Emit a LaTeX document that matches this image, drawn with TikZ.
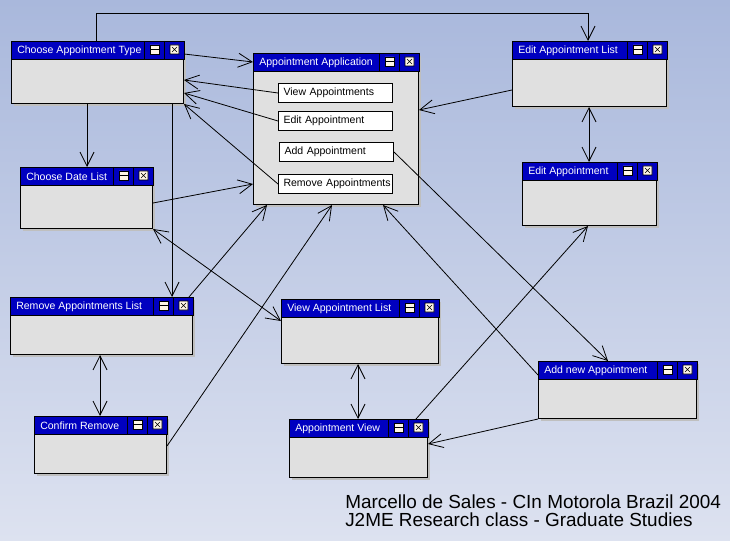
\documentclass[tikz,border=0pt]{standalone}
\usepackage{fontspec}
\setmainfont{Liberation Sans}
\usepackage{tikz}
\usetikzlibrary{arrows.meta,calc}

\definecolor{bgtop}{RGB}{169,184,220}
\definecolor{bgbot}{RGB}{221,226,240}
\definecolor{barblue}{RGB}{0,0,192}
\definecolor{winbg}{RGB}{224,224,224}
\definecolor{iconbg}{RGB}{255,246,230}

% window: name, left, top, width, height, title (all in px)
\newcommand\win[6]{%
  \fill[black!25] (#2+3,#3+3) rectangle ++(#4,#5);
  \node[winbox, minimum width=#4*0.75pt, minimum height=#5*0.75pt] (#1) at (#2,#3) {};
  \draw[fill=barblue] (#1.north west) rectangle ($(#1.north east)+(0,18)$);
  \node[wintitle] (#1-t) at ($(#1.north west)+(6,9.5)$) {#6};
  \draw ($(#1.north east)+(-40,0)$) -- ++(0,18) ($(#1.north east)+(-20,0)$) -- ++(0,18);
  \draw[fill=iconbg] ($(#1.north east)+(-34,4)$) rectangle ++(9,9) ++(-9,-4.5) -- ++(9,0);
  \draw[fill=iconbg] ($(#1.north east)+(-14,4)$) rectangle ++(9,9) ++(-7,-7) -- ++(5,5) ++(0,-5) -- ++(-5,5);
}

\begin{document}
\begin{tikzpicture}[x=0.75pt, y=-0.75pt, >={Straight Barb[length=10.5pt,width=10.5pt]},
  winbox/.style={draw, fill=winbg, line width=0.75pt, anchor=north west, inner sep=0pt},
  wintitle/.style={anchor=west, text=white, inner sep=0pt, font=\fontsize{7.9}{9}\selectfont},
  btn/.style={draw, fill=white, line width=0.75pt, anchor=north west, inner sep=0pt,
    minimum width=85.5pt, minimum height=14.25pt, text width=78pt, align=left,
    font=\fontsize{7.9}{9}\selectfont},
  conn/.style={draw=black, line width=0.6pt},
  foot/.style={anchor=base west, inner sep=0pt, font=\fontsize{14.2}{16}\selectfont}]
  % background
  \useasboundingbox (0,0) rectangle (730,541);
  \shade[top color=bgtop, bottom color=bgbot] (0,0) rectangle (730,541);
  % windows
  \win{type}{11}{41}{172}{62}{Choose Appointment Type}
  \win{app}{253}{53}{165}{151}{Appointment Application}
  \win{editlist}{512}{41}{154}{65}{Edit Appointment List}
  \win{edit}{522}{162}{134}{63}{Edit Appointment}
  \win{datelist}{20}{167}{132}{61}{Choose Date List}
  \win{remlist}{10}{297}{182}{57}{Remove Appointments List}
  \win{viewlist}{281}{299}{157}{64}{View Appointment List}
  \win{view}{289}{419}{138}{58}{Appointment View}
  \win{addnew}{538}{361}{158}{57}{Add new Appointment}
  \win{confirm}{34}{416}{132}{57}{Confirm Remove}
  % buttons of the application window
  \node[btn] (bview) at (278,83) {View Appointments};
  \node[btn] (bedit) at (278,111) {Edit Appointment};
  \node[btn] (badd) at (279,142) {Add Appointment};
  \node[btn] (brem) at (278,174) {\mbox{Remove Appointments}};
  % connectors
  \draw[conn,->] ($(type.north west)+(85,0)$) -- ++(0,-28) -| ($(editlist.north west)+(76,0)$);
  \draw[conn,->] ($(type.north east)+(0,13)$) -- ($(app.north west)+(0,9)$);
  \draw[conn,->] (bview.west) -- ($(type.north east)+(0,39)$);
  \draw[conn,->] (bedit.west) -- ($(type.north east)+(0,52)$);
  \draw[conn,->] (brem.west) -- (type.south east);
  \draw[conn,->] ($(type.south west)+(76,0)$) -- ($(datelist.north west)+(67,0)$);
  \draw[conn,->] ($(type.south west)+(161,0)$) -- ($(remlist.north west)+(162,0)$);
  \draw[conn,->] ($(datelist.north east)+(0,36)$) -- ($(app.north west)+(0,131)$);
  \draw[conn,<->] (datelist.south east) -- ($(viewlist.north west)+(0,22)$);
  \draw[conn,->] ($(remlist.north east)+(-4,0)$) -- ($(app.south west)+(14,0)$);
  \draw[conn,<->] ($(remlist.south west)+(90,0)$) -- ($(confirm.north west)+(66,0)$);
  \draw[conn,->] ($(confirm.north east)+(0,30)$) -- ($(app.south west)+(79,0)$);
  \draw[conn,->] ($(editlist.north west)+(0,49)$) -- ($(app.north east)+(0,57)$);
  \draw[conn,<->] ($(editlist.south west)+(77,0)$) -- ($(edit.north west)+(67,0)$);
  \draw[conn,->] (badd.east) -- ($(addnew.north west)+(70,0)$);
  \draw[conn,->] ($(addnew.north west)+(0,14)$) -- ($(app.south west)+(130,0)$);
  \draw[conn,->] (addnew.south west) -- ($(view.north east)+(0,25)$);
  \draw[conn,->] ($(view.north east)+(-12,0)$) -- ($(edit.south west)+(66,0)$);
  \draw[conn,<->] ($(viewlist.south west)+(77,0)$) -- ($(view.north west)+(69,0)$);
  % footer
  \node[foot] (foot1) at (345,508) {Marcello de Sales - CIn Motorola Brazil 2004};
  \node[foot] (foot2) at (345,526) {J2ME Research class - Graduate Studies};
\end{tikzpicture}
\end{document}
